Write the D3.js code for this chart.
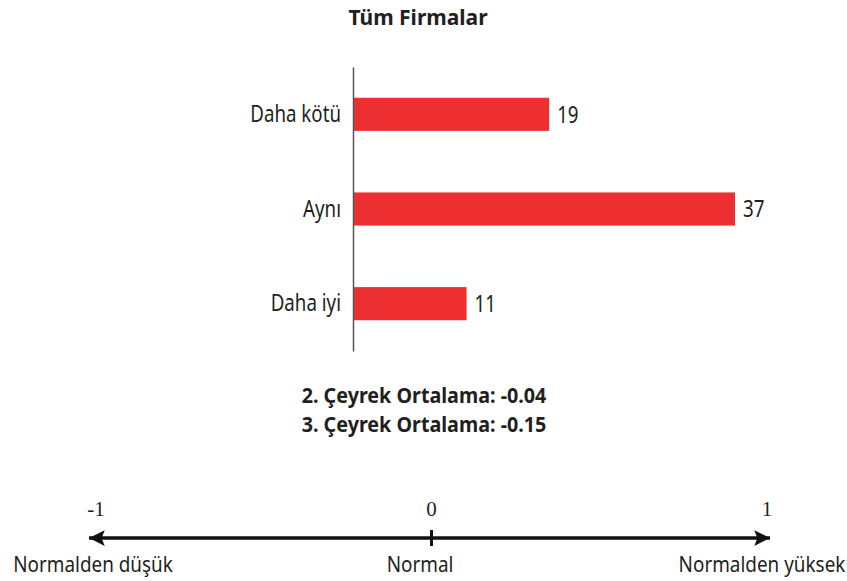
<!DOCTYPE html>
<html>
<head>
<meta charset="utf-8">
<script src="https://cdn.jsdelivr.net/npm/d3@7"></script>
<style>
  body { margin: 0; background: #fff; }
  svg { display: block; font-family: 'Noto Sans', 'Open Sans', sans-serif; fill: #231f20; }
  .title { font-weight: bold; font-size: 21px; }
  .cat { font-size: 24px; }
  .val { font-size: 24px; }
  .avg { font-weight: bold; font-size: 21px; }
  .num { font-family: 'Liberation Serif', serif; font-size: 21px; }
  .scale-label { font-size: 21px; }
</style>
</head>
<body>
<svg width="847" height="581"></svg>
<script>
const categories = ['Daha kötü', 'Aynı', 'Daha iyi'];
const values = [19, 37, 11];
const averageLabels = ['2. Çeyrek Ortalama: -0.04', '3. Çeyrek Ortalama: -0.15'];
const scaleTicks = [-1, 0, 1];
const scaleLabels = ['Normalden düşük', 'Normal', 'Normalden yüksek'];

const svg = d3.select('svg');

const title = 'Tüm Firmalar';
const margin = { top: 67, left: 353 };
const innerHeight = 284;

// put a text at x,y and narrow it horizontally (the source font is a condensed face)
const place = (sel, x, y, squeeze) => sel
    .attr('x', 0).attr('y', 0)
    .attr('transform', (d, i) => `translate(${x(d, i)},${y(d, i)}) scale(${squeeze},1)`);

const xScale = d3.scaleLinear()
    .domain([0, 37])
    .range([0, 382]);

const yScale = d3.scaleBand()
    .domain(categories)
    .range([0, innerHeight])
    .paddingInner(0.65)
    .paddingOuter(0.325);

const g = svg.append('g')
    .attr('transform', `translate(${margin.left},${margin.top})`);

svg.append('text')
    .attr('class', 'title')
    .attr('text-anchor', 'middle')
    .text(title)
    .call(place, () => 418, () => 25, 1);

g.selectAll('rect').data(values)
    .enter().append('rect')
    .attr('x', 0)
    .attr('y', (d, i) => yScale(categories[i]))
    .attr('width', d => xScale(d))
    .attr('height', yScale.bandwidth())
    .attr('fill', '#ee2f31');

const yAxis = d3.axisLeft(yScale).tickSize(0).tickPadding(12);
const yAxisG = g.append('g').call(yAxis);
yAxisG.attr('font-family', null).attr('font-size', null);
yAxisG.select('.domain').attr('stroke', '#555').attr('stroke-width', 1.5);
yAxisG.selectAll('.tick text')
    .attr('class', 'cat')
    .attr('fill', '#231f20')
    .call(place, () => -12, () => 0, 0.78);

g.selectAll('.val').data(values)
    .enter().append('text')
    .attr('class', 'val')
    .attr('dy', '0.35em')
    .text(d => d)
    .call(place, d => xScale(d) + 8, (d, i) => yScale(categories[i]) + yScale.bandwidth() / 2, 0.78);

svg.selectAll('.avg').data(averageLabels)
    .enter().append('text')
    .attr('class', 'avg')
    .attr('text-anchor', 'middle')
    .text(d => d)
    .call(place, () => 424, (d, i) => 403 + i * 29, 0.94);

// bottom scale: lower than normal ... higher than normal
const sScale = d3.scaleLinear().domain([-1, 1]).range([96, 767]);
const lineY = 538;

const defs = svg.append('defs');
['start', 'end'].forEach(k => {
    defs.append('marker')
        .attr('id', 'arrow-' + k)
        .attr('viewBox', '0 0 10 10')
        .attr('refX', 10).attr('refY', 5)
        .attr('markerWidth', 4.5).attr('markerHeight', 4.5)
        .attr('markerUnits', 'strokeWidth')
        .attr('orient', k === 'start' ? 'auto-start-reverse' : 'auto')
        .append('path')
        .attr('d', 'M0,0 L10,5 L0,10 L2,5 Z')
        .attr('fill', '#111');
});

svg.append('line')
    .attr('x1', sScale(-1) - 7).attr('x2', sScale(1) + 3)
    .attr('y1', lineY).attr('y2', lineY)
    .attr('stroke', '#111')
    .attr('stroke-width', 3.5)
    .attr('marker-start', 'url(#arrow-start)')
    .attr('marker-end', 'url(#arrow-end)');

svg.append('line')
    .attr('x1', sScale(0)).attr('x2', sScale(0))
    .attr('y1', lineY - 8).attr('y2', lineY + 8)
    .attr('stroke', '#111')
    .attr('stroke-width', 3);

svg.selectAll('.num').data(scaleTicks)
    .enter().append('text')
    .attr('class', 'num')
    .attr('x', d => sScale(d))
    .attr('y', 516)
    .attr('text-anchor', 'middle')
    .text(d => d);

const labelX = [93, 420, 762];
svg.selectAll('.scale-label').data(scaleLabels)
    .enter().append('text')
    .attr('class', 'scale-label')
    .attr('text-anchor', 'middle')
    .text(d => d)
    .call(place, (d, i) => labelX[i], () => 572, 0.9);
</script>
</body>
</html>
